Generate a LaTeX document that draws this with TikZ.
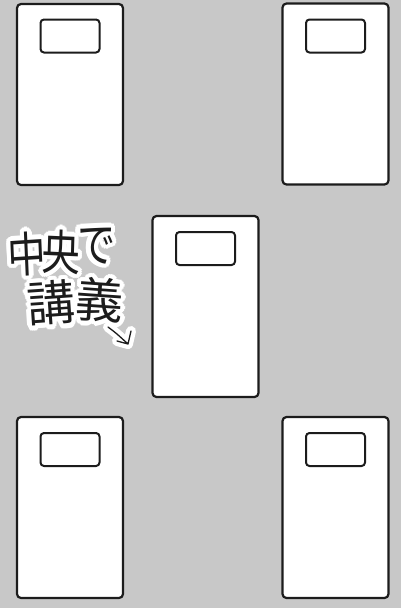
\documentclass[tikz,border=0pt]{standalone}
\usepackage{fontspec}
\newfontfamily\cjk{Noto Sans CJK JP}
\definecolor{bg}{RGB}{200,200,200}
\definecolor{ink}{RGB}{28,28,28}
\tikzset{
  bed/.style={draw=ink, fill=white, line width=2.2pt, rounded corners=4pt,
    rectangle, minimum width=106pt, minimum height=181pt, inner sep=0pt, outer sep=0pt},
  pillow/.style={draw=ink, fill=white, line width=2pt, rounded corners=3.5pt,
    rectangle, minimum width=59pt, minimum height=33pt, inner sep=0pt, outer sep=0pt, anchor=north},
  hand/.style={font=\cjk\fontsize{48}{48}\selectfont, text=ink, inner sep=0pt, xscale=0.8},
  handb/.style={font=\cjk\fontsize{48}{48}\selectfont, text=ink, inner sep=0pt, xscale=1.0},
  halo/.style={text=white},
  pen/.style={draw=ink, line width=1.3pt, line cap=round, line join=round},
  penhalo/.style={draw=white, line width=10pt, line cap=round, line join=round}
}
\begin{document}
\begin{tikzpicture}[x=1pt,y=-1pt]
\fill[bg] (0,0) rectangle (401,608);
\useasboundingbox (0,0) rectangle (401,608);
% beds
\node[bed] (b1) at (70,94.5) {};
\node[pillow] (p1) at ([yshift=-15.5pt]b1.north) {};
\node[bed] (b2) at (335.5,94) {};
\node[pillow] (p2) at ([yshift=-16pt]b2.north) {};
\node[bed] (b3) at (205.5,306.5) {};
\node[pillow] (p3) at ([yshift=-16pt]b3.north) {};
\node[bed] (b4) at (70,507.5) {};
\node[pillow] (p4) at ([yshift=-16pt]b4.north) {};
\node[bed] (b5) at (335.5,507.5) {};
\node[pillow] (p5) at ([yshift=-16pt]b5.north) {};
% arrow coordinates
\coordinate (a0) at (108,327);
\coordinate (a1) at (128,344);
\coordinate (h1) at (131,331);
\coordinate (h2) at (117,341);
% halos
\foreach \a in {0,22.5,...,337.5}{
  \node[hand, halo, rotate=3] at ([shift={(\a:4.5pt)}]27,254) {中};
  \node[hand, halo, rotate=-2] at ([shift={(\a:4.5pt)}]61,252) {央};
  \node[hand, halo, rotate=-3] at ([shift={(\a:4.5pt)}]96,245) {で};
  \node[handb, halo, rotate=4] at ([shift={(\a:4.5pt)}]51,303) {講};
  \node[handb, halo, rotate=-4] at ([shift={(\a:4.5pt)}]100,300) {義};
}
\draw[penhalo] (a0) .. controls (116,333) .. (a1) -- (h1) (a1) -- (h2);
% text
\node[hand, rotate=3] (t1) at (27,254) {中};
\node[hand, rotate=-2] (t2) at (61,252) {央};
\node[hand, rotate=-3] (t3) at (96,245) {で};
\node[handb, rotate=4] (t4) at (51,303) {講};
\node[handb, rotate=-4] (t5) at (100,300) {義};
\draw[pen] (a0) .. controls (116,333) .. (a1) -- (h1) (a1) -- (h2);
\end{tikzpicture}
\end{document}
